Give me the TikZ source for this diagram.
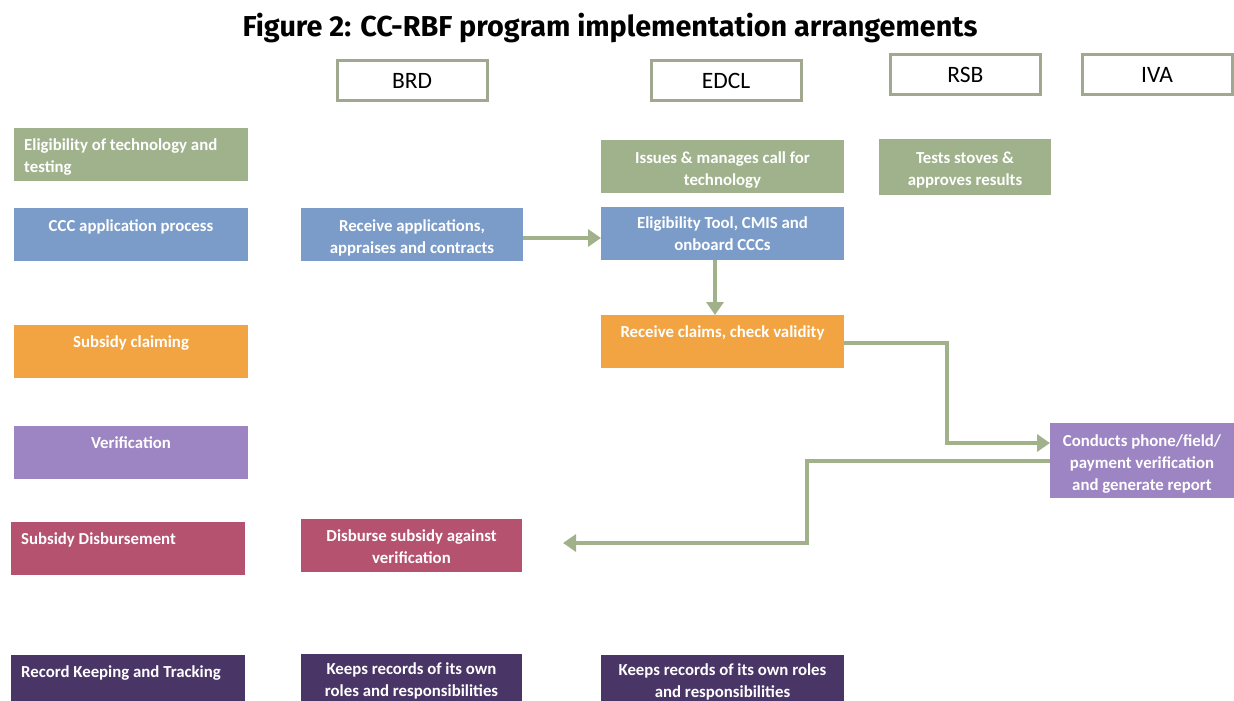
\documentclass[tikz,border=0pt]{standalone}
\usepackage{fontspec}
\setmainfont{Carlito}
\newfontfamily\titlefont{Fira Sans}
\usetikzlibrary{arrows.meta}
\definecolor{cgreen}{HTML}{A0B28C}
\definecolor{cblue}{HTML}{7B9CC8}
\definecolor{corange}{HTML}{F2A443}
\definecolor{cpurple}{HTML}{9D84C2}
\definecolor{crose}{HTML}{B5526F}
\definecolor{cdark}{HTML}{4A3567}
\definecolor{carrow}{HTML}{A1B28B}
\definecolor{cborder}{HTML}{A0A88F}
\tikzset{
  boxnode/.style={draw=none, minimum width=#1, minimum height=53pt, inner sep=0pt, anchor=north west},
  txt/.style={text=white, font=\bfseries\fontsize{16.8}{22}\selectfont, align=center, inner sep=0pt, anchor=north},
  txtl/.style={txt, align=left, anchor=north west},
  head/.style={draw=cborder, line width=3pt, fill=white, minimum width=150pt, minimum height=39pt, inner sep=0pt, font=\fontsize{23.5}{26}\selectfont},
  flow/.style={draw=carrow, line width=4.5pt, -{Triangle[length=13pt,width=17pt]}}
}
\begin{document}
\begin{tikzpicture}[x=1pt,y=-1pt]
\useasboundingbox (0,0) rectangle (1234,701);
\clip (0,0) rectangle (1234,701);
% title
\node[font=\titlefont\bfseries\fontsize{28.8}{32}\selectfont, inner sep=0pt] (title) at (610,28) {Figure 2: CC-RBF program implementation arrangements};
% headers
\node[head] (brd) at (412,80.5) {BRD};
\node[head] (edcl) at (726,80.5) {EDCL};
\node[head] (rsb) at (965.5,74.5) {RSB};
\node[head] (iva) at (1157,74.5) {IVA};
% left column
\node[boxnode=234pt, fill=cgreen] (elig) at (14,128) {};
\node[txtl] (eligt) at (24,139) {Eligibility of technology and\\testing};
\node[boxnode=234pt, fill=cblue] (ccc) at (14,208) {};
\node[txt] (ccct) at (131,219) {CCC application process};
\node[boxnode=234pt, fill=corange] (claim) at (14,325) {};
\node[txt] (claimt) at (131,336) {Subsidy claiming};
\node[boxnode=234pt, fill=cpurple] (verif) at (14,426) {};
\node[txt] (veriftx) at (131,436) {Verification};
\node[boxnode=234pt, fill=crose] (disb) at (11,522) {};
\node[txtl] (disbt) at (21,533) {Subsidy Disbursement};
\node[boxnode=234pt, fill=cdark, minimum height=60pt] (rec) at (11,655) {};
\node[txtl] (rect) at (21,666) {Record Keeping and Tracking};
% BRD column
\node[boxnode=222pt, fill=cblue] (recv) at (301,208) {};
\node[txt] (recvt) at (412,219) {Receive applications,\\appraises and contracts};
\node[boxnode=221pt, fill=crose] (disbs) at (301,519) {};
\node[txt] (disbst) at (411.5,530) {Disburse subsidy against\\verification};
\node[boxnode=221pt, fill=cdark, minimum height=60pt] (keepb) at (301,654) {};
\node[txt] (keepbt) at (411.5,663) {Keeps records of its own\\roles and responsibilities};
% EDCL column
\node[boxnode=243pt, fill=cgreen] (issue) at (601,140) {};
\node[txt] (issuet) at (722.5,152) {Issues \& manages call for\\technology};
\node[boxnode=243pt, fill=cblue] (tool) at (601,207) {};
\node[txt] (toolt) at (722.5,217) {Eligibility Tool, CMIS and\\onboard CCCs};
\node[boxnode=243pt, fill=corange] (rclaim) at (601,315) {};
\node[txt] (rclaimt) at (722.5,326) {Receive claims, check validity};
\node[boxnode=243pt, fill=cdark, minimum height=60pt] (keepe) at (601,655) {};
\node[txt] (keepet) at (722.5,664) {Keeps records of its own roles\\and responsibilities};
% RSB column
\node[boxnode=172pt, fill=cgreen, minimum height=56pt] (tests) at (879,139) {};
\node[txt] (testst) at (965,152) {Tests stoves \&\\approves results};
% IVA column
\node[boxnode=184pt, fill=cpurple, minimum height=75pt] (cond) at (1050,423) {};
\node[txt] (condt) at (1142,434) {Conducts phone/field/\\payment verification\\and generate report};
% connectors
\coordinate (disbend) at (563,543);
\draw[flow] (recv.east |- 0,238) -- (tool.west |- 0,238);
\draw[flow] (tool.south -| 715,0) -- (rclaim.north -| 715,0);
\draw[flow] (rclaim.east |- 0,343) -| (947,443) -- (cond.west |- 0,443);
\draw[flow] (cond.west |- 0,461) -| (807,543) -- (disbend);
\end{tikzpicture}
\end{document}
